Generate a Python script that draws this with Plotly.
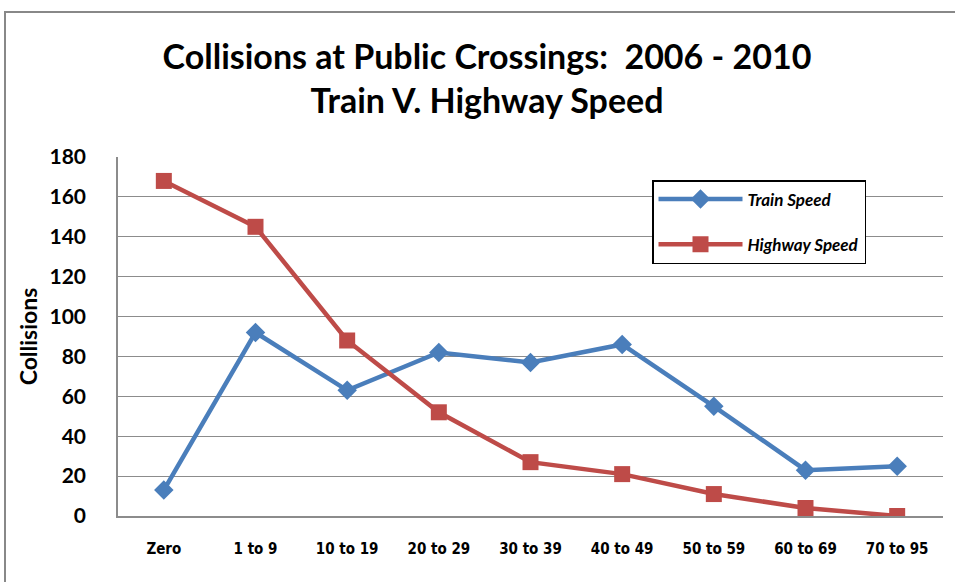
import plotly.graph_objects as go

categories = ["Zero", "1 to 9", "10 to 19", "20 to 29", "30 to 39", "40 to 49", "50 to 59", "60 to 69", "70 to 95"]
train_speed = [13, 92, 63, 82, 77, 86, 55, 23, 25]
highway_speed = [168, 145, 88, 52, 27, 21, 11, 4, 0]
y_ticks = [0, 20, 40, 60, 80, 100, 120, 140, 160, 180]

FONT = "Lato"
NARROW = "DejaVu Sans Condensed, Lato"
BLUE = "#4A7EBB"
RED = "#BE4B48"
GRID = "#8C8C8C"

fig = go.Figure()
fig.add_trace(go.Scatter(
    x=categories, y=train_speed, name="Train Speed", mode="lines+markers",
    legendgroup="a",
    line=dict(color=BLUE, width=4.5),
    marker=dict(symbol="diamond", size=15, color=BLUE),
))
fig.add_trace(go.Scatter(
    x=categories, y=highway_speed, name="Highway Speed", mode="lines+markers",
    legendgroup="b",
    line=dict(color=RED, width=4.5),
    marker=dict(symbol="square", size=16, color=RED),
))

W, H = 955, 582
L, R, T, B = 118, 12, 157, 66
pw, ph = W - L - R, H - T - B

fig.update_layout(
    width=W, height=H,
    margin=dict(l=L, r=R, t=T, b=B),
    paper_bgcolor="white", plot_bgcolor="white",
    font=dict(family=FONT, color="black"),
    title=dict(
        text="Collisions at Public Crossings:  2006 - 2010<br>Train V. Highway Speed",
        x=487 / W, xanchor="center", xref="container",
        y=1 - 69 / H, yanchor="top",
        font=dict(family=FONT, size=34, color="black", weight="bold"),
    ),
    showlegend=True,
    legend=dict(
        x=(652 - L) / pw, y=(516 - 180) / ph, xanchor="left", yanchor="top",
        bgcolor="white", bordercolor="black", borderwidth=1.5,
        font=dict(family=FONT, size=17, color="black", weight="bold", style="italic"),
        itemwidth=84, tracegroupgap=20, traceorder="grouped",
    ),
)
fig.update_xaxes(
    type="category", range=[-0.5, 8.5],
    showgrid=False, showline=True, linecolor=GRID, linewidth=1.5,
    ticks="", tickfont=dict(family=NARROW, size=15, weight="bold"),
    ticklabelstandoff=18,
)
fig.update_yaxes(
    range=[0, 180], tickvals=y_ticks, showgrid=True, gridcolor=GRID, gridwidth=1.3,
    showline=True, linecolor=GRID, linewidth=1.5, zeroline=False,
    ticks="", tickfont=dict(family=FONT, size=21, weight="bold"),
    ticklabelstandoff=26,
    title=dict(text="Collisions", font=dict(family=FONT, size=23, weight="bold"), standoff=5),
)

# outer chart frame
fig.add_shape(
    type="rect", xref="paper", yref="paper",
    x0=(5 - L) / pw, x1=(W + 20 - L) / pw,
    y0=(H - B - (H + 20)) / ph, y1=(H - B - 12) / ph,
    line=dict(color="#888888", width=2), fillcolor="rgba(0,0,0,0)", layer="below",
)

fig.write_html(
    "out.html",
    config={"displayModeBar": False},
    post_script="document.body.style.margin='0';document.body.style.overflow='hidden';",
)
